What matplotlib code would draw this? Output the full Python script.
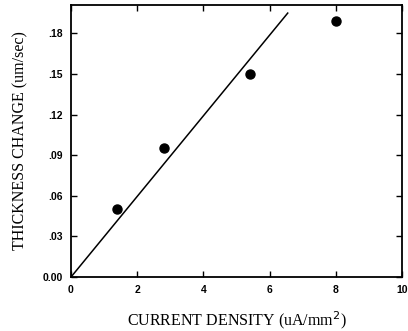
import numpy as np
import matplotlib
matplotlib.use('Agg')
import matplotlib.pyplot as plt
from matplotlib.ticker import FuncFormatter

# measured points
current = [1.4, 2.8, 5.4, 8.0]
thickness = [0.050, 0.095, 0.150, 0.189]

# fitted line
fit_x = [0.0, 6.55]
fit_y = [0.0, 0.195]

xticks = [0, 2, 4, 6, 8, 10]
yticks = [0.0, 0.03, 0.06, 0.09, 0.12, 0.15, 0.18]

fig = plt.figure(figsize=(4.08, 3.31), dpi=100)
ax = fig.add_axes([0.174, 0.163, 0.811, 0.822])

ax.plot(fit_x, fit_y, color='black', lw=1.1)
ax.plot(current, thickness, 'o', color='black', markersize=6.5)

ax.set_xlim(0, 10)
ax.set_ylim(0, 0.201)
ax.set_xticks(xticks)
ax.set_yticks(yticks)

def yfmt(v, pos):
    if v == 0:
        return '0.00'
    return ('%.2f' % v).lstrip('0')

ax.yaxis.set_major_formatter(FuncFormatter(yfmt))
ax.tick_params(direction='in', top=True, right=True, length=4, width=1.0,
               labelsize=7.5, pad=6)
for lab in ax.get_xticklabels() + ax.get_yticklabels():
    lab.set_fontweight('bold')
    lab.set_fontfamily('Liberation Sans')
for s in ax.spines.values():
    s.set_linewidth(1.3)

ax.set_xlabel('CURRENT DENSITY (uA/mm$^{2}$)', fontfamily='Liberation Serif',
              fontsize=11.5, labelpad=10)
ax.set_ylabel('THICKNESS CHANGE (um/sec)', fontfamily='Liberation Serif',
              fontsize=11.5, labelpad=10)

fig.savefig('out.png', dpi=100)
